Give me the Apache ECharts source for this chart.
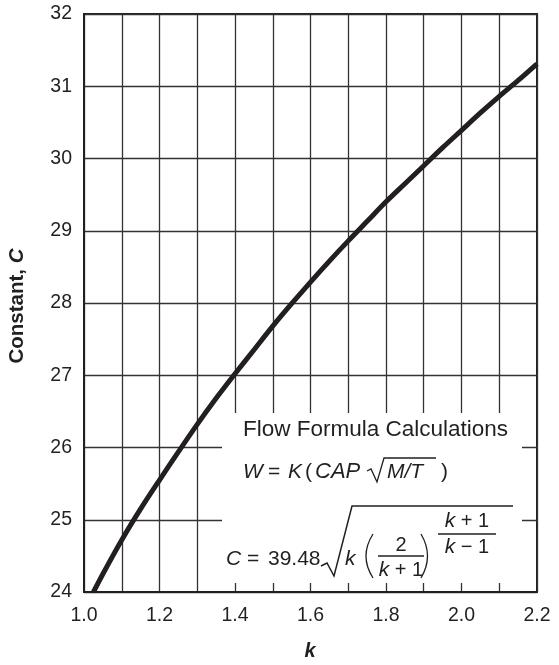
<!DOCTYPE html>
<html>
<head>
<meta charset="utf-8">
<script src="https://cdn.jsdelivr.net/npm/echarts@6/dist/echarts.min.js"></script>
<style>html,body{margin:0;padding:0;background:#fff;}#c{width:559px;height:665px;}</style>
</head>
<body>
<div id="c"></div>
<script>
// k values
var kValues = [1.025,1.05,1.1,1.15,1.2,1.25,1.3,1.35,1.4,1.45,1.5,1.55,1.6,1.65,1.7,1.75,1.8,1.85,1.9,1.95,2.0,2.05,2.1,2.15,2.2];
// Constant C
var cValues = [24.0,24.25,24.72,25.15,25.55,25.94,26.32,26.68,27.02,27.35,27.68,27.99,28.29,28.58,28.86,29.13,29.40,29.65,29.90,30.15,30.39,30.63,30.86,31.08,31.31];
var xTickLabels = ['1.0','1.2','1.4','1.6','1.8','2.0','2.2'];
var yTickLabels = ['24','25','26','27','28','29','30','31','32'];

var FONT = '"Liberation Sans", Arial, Helvetica, sans-serif';
var INK = '#231f20';
var chart = echarts.init(document.getElementById('c'));
var pts = kValues.map(function(k,i){return [k,cValues[i]];});

function txt(x,y,s,size,opts){
  opts = opts||{};
  return {type:'text', z:20, x:x, y:y, style:{text:s, font:(opts.style||'normal')+' '+(opts.weight||'normal')+' '+size+'px '+FONT,
    fill:INK, align:opts.align||'left', verticalAlign:'middle', rich:opts.rich}};
}
function ln(points,w){
  return {type:'polyline', z:20, shape:{points:points}, style:{stroke:INK, lineWidth:w||1.3, fill:null}};
}
function paren(x1,y1,cx,x2,y2){
  return {type:'bezierCurve', z:20, shape:{x1:x1,y1:y1,x2:x2,y2:y2,cpx1:cx,cpy1:(y1+y2)/2}, style:{stroke:INK,lineWidth:1.3,fill:null}};
}
var ital = {i:{fontStyle:'italic', fontSize:21, fontFamily:FONT, fill:INK}};

var option = {
  animation:false,
  backgroundColor:'#fff',
  grid:{left:84,right:22,top:14,bottom:73,show:true,borderColor:INK,borderWidth:2,backgroundColor:'transparent'},
  xAxis:{type:'value',min:1.0,max:2.2,interval:0.1,
    axisLine:{show:true,lineStyle:{color:INK,width:2}},
    axisTick:{show:false},
    splitLine:{show:true,lineStyle:{color:'#333333',width:1.3}},
    axisLabel:{margin:14,fontSize:19.5,fontFamily:FONT,color:INK,showMinLabel:true,showMaxLabel:true,
      formatter:function(v){var t=Math.round(v*10);if(t%2!==0)return '';var s=(t/10).toFixed(1);return xTickLabels.indexOf(s)>=0?s:'';}}
  },
  yAxis:{type:'value',min:24,max:32,interval:1,
    axisLine:{show:true,lineStyle:{color:INK,width:2}},
    axisTick:{show:false},
    splitLine:{show:true,lineStyle:{color:'#333333',width:1.3}},
    axisLabel:{margin:12,fontSize:19.5,fontFamily:FONT,color:INK,
      formatter:function(v){var s=String(Math.round(v));return yTickLabels.indexOf(s)>=0?s:'';}}
  },
  series:[{type:'line',data:pts,showSymbol:false,smooth:0.3,clip:true,z:30,
    lineStyle:{color:INK,width:5,cap:'butt'}}],
  graphic:[
    {type:'rect', z:10, shape:{x:222,y:413,width:300,height:170}, style:{fill:'#fff'}},
    // axis names
    {type:'text', z:20, x:17, y:306, rotation:Math.PI/2, style:{text:'Constant, {bi|C}', font:'bold 20.5px '+FONT, fill:INK, align:'center', verticalAlign:'middle',
      rich:{bi:{fontStyle:'italic',fontWeight:'bold',fontSize:20.5,fontFamily:FONT,fill:INK}}}},
    txt(310,651,'k',20,{style:'italic',weight:'bold',align:'center'}),
    // title
    txt(243,430,'Flow Formula Calculations',22.5),
    // W = K (CAP sqrt(M/T))
    txt(243,472,'W',21,{style:'italic'}),
    txt(268,472,'=',21),
    txt(288,472,'K',21,{style:'italic'}),
    txt(305,472,'(',21),
    txt(315,472,'CAP',22,{style:'italic'}),
    ln([[367,471],[371,469],[377,482],[384,458],[436,458]],1.3),
    txt(387,472,'M/T',21,{style:'italic'}),
    txt(441,472,')',21),
    // C = 39.48 sqrt(...)
    txt(226,559,'C',21,{style:'italic'}),
    txt(247,559,'=',21),
    txt(268,559,'39.48',21),
    ln([[321,566],[327,563],[334,576],[352,506],[513,506]],1.5),
    txt(345,559,'k',21,{style:'italic'}),
    paren(373,534,359,373,578),
    txt(401,545,'2',20,{align:'center'}),
    ln([[378,556],[424,556]],1.3),
    txt(401,570,'{i|k} + 1',20,{align:'center',rich:ital}),
    paren(421,534,434,421,578),
    txt(467,521,'{i|k} + 1',20,{align:'center',rich:ital}),
    ln([[438,534],[496,534]],1.3),
    txt(467,547,'{i|k} \u2212 1',20,{align:'center',rich:ital})
  ]
};
chart.setOption(option);
</script>
</body>
</html>
